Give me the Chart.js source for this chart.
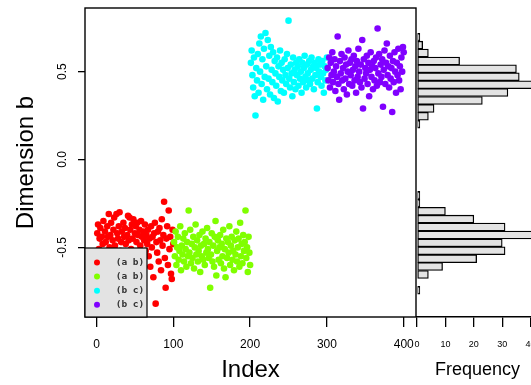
<!DOCTYPE html>
<html><head><meta charset="utf-8">
<script src="https://cdn.jsdelivr.net/npm/chart.js@4"></script>
<style>
html,body{margin:0;padding:0;background:#fff;overflow:hidden;width:531px;height:385px;}
#main{position:absolute;left:0;top:0;}
#hist{position:absolute;left:410px;top:0;}
</style></head><body>
<canvas id="main" width="420" height="385"></canvas>
<canvas id="hist" width="128" height="385"></canvas>
<script>
// ---------- data ----------
const seriesLabels = ['(a b)', '(a b)', '(b c)', '(b c)'];
const seriesColors = ['#FF0000', '#80FF00', '#00FFFF', '#8000FF'];
const groupStart = [1, 101, 201, 301];

const redValues = [
 -0.42,-0.37,-0.51,-0.45,-0.39,-0.58,-0.44,-0.48,-0.35,-0.53,
 -0.41,-0.47,-0.62,-0.38,-0.44,-0.31,-0.50,-0.43,-0.36,-0.55,
 -0.46,-0.40,-0.33,-0.49,-0.57,-0.31,-0.42,-0.45,-0.38,-0.30,
 -0.52,-0.47,-0.41,-0.60,-0.36,-0.44,-0.39,-0.48,-0.54,-0.43,
 -0.32,-0.46,-0.33,-0.40,-0.51,-0.37,-0.45,-0.34,-0.64,-0.42,
 -0.38,-0.47,-0.36,-0.43,-0.56,-0.40,-0.49,-0.35,-0.44,-0.59,
 -0.41,-0.46,-0.37,-0.52,-0.43,-0.48,-0.40,-0.55,-0.45,-0.61,
 -0.38,-0.50,-0.44,-0.67,-0.42,-0.36,-0.82,-0.47,-0.53,-0.41,
 -0.58,-0.39,-0.46,-0.63,-0.34,-0.49,-0.43,-0.24,-0.56,-0.73,
 -0.45,-0.38,-0.60,-0.29,-0.51,-0.44,-0.65,-0.68,-0.40,-0.48
];
const greenValues = [
 -0.47,-0.55,-0.41,-0.60,-0.50,-0.44,-0.57,-0.52,-0.38,-0.63,
 -0.49,-0.54,-0.45,-0.58,-0.42,-0.51,-0.61,-0.47,-0.55,-0.29,
 -0.53,-0.40,-0.59,-0.48,-0.56,-0.44,-0.62,-0.50,-0.37,-0.54,
 -0.46,-0.58,-0.52,-0.43,-0.64,-0.49,-0.55,-0.41,-0.57,-0.48,
 -0.60,-0.45,-0.53,-0.39,-0.51,-0.56,-0.47,-0.73,-0.54,-0.42,
 -0.58,-0.49,-0.61,-0.44,-0.35,-0.66,-0.52,-0.46,-0.57,-0.50,
 -0.43,-0.59,-0.48,-0.55,-0.40,-0.62,-0.51,-0.67,-0.45,-0.56,
 -0.47,-0.53,-0.38,-0.60,-0.49,-0.44,-0.57,-0.52,-0.63,-0.46,
 -0.54,-0.41,-0.58,-0.50,-0.45,-0.61,-0.36,-0.55,-0.48,-0.59,
 -0.43,-0.52,-0.47,-0.29,-0.56,-0.50,-0.64,-0.44,-0.53,-0.60
];
const cyanValues = [
 0.55,0.62,0.48,0.41,0.58,0.36,0.25,0.52,0.45,0.60,
 0.38,0.66,0.50,0.70,0.43,0.57,0.34,0.63,0.47,0.72,
 0.53,0.40,0.68,0.46,0.59,0.37,0.64,0.51,0.44,0.61,
 0.35,0.56,0.49,0.42,0.58,0.33,0.53,0.47,0.62,0.39,
 0.55,0.45,0.51,0.38,0.57,0.48,0.43,0.60,0.52,0.79,
 0.46,0.41,0.54,0.49,0.36,0.58,0.44,0.51,0.40,0.55,
 0.48,0.53,0.42,0.57,0.46,0.50,0.38,0.55,0.44,0.52,
 0.59,0.47,0.41,0.54,0.49,0.45,0.56,0.43,0.51,0.58,
 0.46,0.53,0.40,0.55,0.48,0.52,0.29,0.44,0.57,0.50,
 0.54,0.47,0.42,0.56,0.49,0.38,0.53,0.45,0.51,0.58
];
const purpleValues = [
 0.52,0.45,0.58,0.41,0.55,0.48,0.61,0.44,0.50,0.57,
 0.39,0.53,0.47,0.70,0.43,0.34,0.56,0.49,0.60,0.45,
 0.52,0.40,0.58,0.46,0.54,0.37,0.50,0.62,0.43,0.55,
 0.48,0.57,0.42,0.51,0.59,0.45,0.53,0.38,0.56,0.47,
 0.63,0.50,0.44,0.54,0.41,0.68,0.29,0.57,0.46,0.52,
 0.49,0.59,0.43,0.55,0.36,0.51,0.61,0.47,0.53,0.40,
 0.56,0.45,0.52,0.58,0.42,0.745,0.49,0.60,0.44,0.54,
 0.47,0.57,0.30,0.51,0.62,0.43,0.55,0.66,0.48,0.53,
 0.41,0.59,0.46,0.52,0.27,0.56,0.44,0.61,0.50,0.38,
 0.55,0.48,0.63,0.45,0.53,0.40,0.58,0.50,0.64,0.61
];
const groups = [redValues, greenValues, cyanValues, purpleValues];

const xTicks = [0, 100, 200, 300, 400];
const yTicks = [-0.5, 0, 0.5];
const yTickLabels = ['-0.5', '0.0', '0.5'];

// histogram (bin lower edges, width 0.05) and counts
const histBinWidth = 0.05;
const histBinLower = [
 -0.85,-0.80,-0.75,-0.70,-0.65,-0.60,-0.55,-0.50,-0.45,-0.40,-0.35,-0.30,-0.25,
 -0.20,-0.15,-0.10,-0.05,0.00,0.05,0.10,0.15,
 0.20,0.25,0.30,0.35,0.40,0.45,0.50,0.55,0.60,0.65,0.70,0.75
];
const histFreq = [
 1,0,4,9,21,31,30,41,31,20,10,1,1,
 0,0,0,0,0,0,0,0,
 1,4,6,23,32,41,36,35,15,4,2,1
];
const histTicks = [0, 10, 20, 30, 40];

// ---------- drawing ----------
const FONT = "'Liberation Sans', Arial, Helvetica, sans-serif";
const Y_MIN = -0.896, Y_MAX = 0.862;

function noPad(s) { s.paddingLeft = 0; s.paddingRight = 0; s.paddingTop = 0; s.paddingBottom = 0; }

const boxPlugin = {
  id: 'box',
  afterDraw(chart) {
    const {ctx, chartArea: a} = chart;
    ctx.save();
    ctx.strokeStyle = '#000';
    ctx.lineWidth = 1.4;
    ctx.strokeRect(a.left, a.top, a.right - a.left, a.bottom - a.top);
    // rotated y tick labels
    const ys = chart.scales.y;
    ctx.fillStyle = '#000';
    ctx.font = '12px ' + FONT;
    ctx.textAlign = 'center';
    ctx.textBaseline = 'middle';
    yTicks.forEach((v, i) => {
      ctx.save();
      ctx.translate(63, ys.getPixelForValue(v));
      ctx.rotate(-Math.PI / 2);
      ctx.fillText(yTickLabels[i], 0, 0);
      ctx.restore();
    });
    // legend box
    const w = 62, h = 69;
    const lx = a.left, ly = a.bottom - h;
    ctx.fillStyle = '#e3e3e3';
    ctx.fillRect(lx, ly, w, h);
    ctx.lineWidth = 1.2;
    ctx.strokeRect(lx, ly, w, h);
    ctx.font = "bold 9.5px 'DejaVu Sans Mono', monospace";
    seriesLabels.forEach((lab, i) => {
      const ry = ly + 14.5 + i * 14.1;
      ctx.fillStyle = seriesColors[i];
      ctx.beginPath();
      ctx.arc(lx + 12, ry, 3, 0, Math.PI * 2);
      ctx.fill();
      ctx.fillStyle = '#333';
      ctx.fillText(lab, lx + 45, ry);
    });
    ctx.restore();
  }
};

new Chart(document.getElementById('main'), {
  type: 'scatter',
  data: {
    datasets: groups.map((vals, g) => ({
      label: seriesLabels[g],
      data: vals.map((v, i) => ({x: groupStart[g] + i, y: v})),
      backgroundColor: seriesColors[g],
      borderColor: seriesColors[g],
      pointRadius: 3.3,
      pointBorderWidth: 0,
      pointStyle: 'circle',
      order: 4 - g
    }))
  },
  options: {
    responsive: false,
    animation: false,
    events: [],
    layout: {padding: {top: 8, right: 4, left: 0, bottom: 0}, autoPadding: false},
    plugins: {legend: {display: false}, tooltip: {enabled: false}},
    scales: {
      x: {
        type: 'linear', min: -15, max: 416,
        afterBuildTicks: s => { s.ticks = xTicks.map(v => ({value: v})); },
        afterFit: s => { s.height = 68; noPad(s); },
        grid: {display: true, drawOnChartArea: false, drawTicks: true, tickLength: 10, color: '#000', lineWidth: 1.3},
        border: {display: false},
        ticks: {font: {family: FONT, size: 12}, color: '#000', padding: 10, maxRotation: 0, minRotation: 0, autoSkip: false},
        title: {display: true, text: 'Index', color: '#000', font: {family: FONT, size: 24, lineHeight: 1.2}, padding: {top: 0, bottom: 0}}
      },
      y: {
        type: 'linear', min: Y_MIN, max: Y_MAX,
        afterBuildTicks: s => { s.ticks = yTicks.map(v => ({value: v})); },
        afterFit: s => { s.width = 85; noPad(s); },
        grid: {display: true, drawOnChartArea: false, drawTicks: true, tickLength: 7, color: '#000', lineWidth: 1.3},
        border: {display: false},
        ticks: {display: false},
        title: {display: true, text: 'Dimension b', color: '#000', font: {family: FONT, size: 24, lineHeight: 1.2}, padding: {top: 12, bottom: 0}}
      }
    }
  },
  plugins: [boxPlugin]
});

new Chart(document.getElementById('hist'), {
  type: 'bar',
  data: {
    datasets: [{
      data: histBinLower.map((b, i) => ({x: histFreq[i], y: b + histBinWidth / 2})),
      backgroundColor: '#e3e3e3',
      borderColor: '#000',
      borderWidth: 1.3,
      borderSkipped: false,
      barPercentage: 1,
      categoryPercentage: 1
    }]
  },
  options: {
    indexAxis: 'y',
    responsive: false,
    animation: false,
    events: [],
    layout: {padding: {top: 8, left: 7, right: 0, bottom: 0}, autoPadding: false},
    plugins: {legend: {display: false}, tooltip: {enabled: false}},
    scales: {
      y: {type: 'linear', min: Y_MIN, max: Y_MAX, display: false},
      x: {
        type: 'linear', min: 0, max: 42.6,
        afterBuildTicks: s => { s.ticks = histTicks.map(v => ({value: v})); },
        afterFit: s => { s.height = 68; noPad(s); },
        grid: {display: true, drawOnChartArea: false, drawTicks: true, tickLength: 10, color: '#000', lineWidth: 1.3},
        border: {display: true, color: '#000', width: 1.4},
        ticks: {font: {family: FONT, size: 9}, color: '#000', padding: 12, maxRotation: 0, minRotation: 0, autoSkip: false},
        title: {display: true, text: 'Frequency', color: '#000', font: {family: FONT, size: 18, lineHeight: 1.2}, padding: {top: 0, bottom: 4}}
      }
    }
  }
});
</script>
</body></html>
